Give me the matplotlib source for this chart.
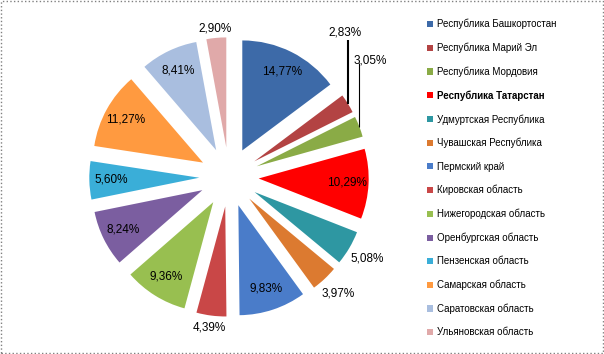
import numpy as np
import matplotlib
matplotlib.use('Agg')
import matplotlib.pyplot as plt
from matplotlib.patches import Rectangle

regions = ['Республика Башкортостан', 'Республика Марий Эл', 'Республика Мордовия',
           'Республика Татарстан', 'Удмуртская Республика', 'Чувашская Республика',
           'Пермский край', 'Кировская область', 'Нижегородская область',
           'Оренбургская область', 'Пензенская область', 'Самарская область',
           'Саратовская область', 'Ульяновская область']
shares = [14.77, 2.83, 3.05, 10.29, 5.08, 3.97, 9.83, 4.39, 9.36, 8.24, 5.60, 11.27, 8.41, 2.90]
colors = ['#3d6aa8', '#b34343', '#8aab46', '#ff0000', '#2e97a2', '#dc7a30', '#4a7cc9',
          '#c94747', '#98bf50', '#7b5ea0', '#3aaed8', '#ff9a40', '#a9bedf', '#e0a9a9']

# distance of each percentage label from its wedge's own centre (in radii)
label_dist = [0.8, None, None, 0.8, 1.19, 1.18, 0.8, 1.11, 0.8, 0.8, 0.8, 0.8, 0.8, 1.09]
# labels with a vertical leader line: index -> (height of line top, line width)
leaders = {1: (1.245, 1.5), 2: (1.04, 0.8)}

plt.rcParams['font.family'] = ['Liberation Sans', 'DejaVu Sans']

fig = plt.figure(figsize=(6.04, 3.54), dpi=100)
ax = fig.add_axes([64 / 604, 12 / 354, 330 / 604, 330 / 354])

expl = 0.27
wedges, texts, autotexts = ax.pie(shares, colors=colors, startangle=90, counterclock=False,
                                  explode=[expl] * len(shares), radius=1.0,
                                  autopct=lambda p: '', pctdistance=0.8,
                                  wedgeprops=dict(linewidth=0))

for i, (w, v) in enumerate(zip(wedges, shares)):
    ang = np.deg2rad((w.theta1 + w.theta2) / 2)
    lab = ('%.2f%%' % v).replace('.', ',')
    if i in leaders:
        top, lw = leaders[i]
        x0 = (1 + expl) * np.cos(ang)
        y0 = (1 + expl) * np.sin(ang)
        ax.plot([x0, x0], [y0, top], color='black', lw=lw, solid_capstyle='butt')
        if i == 1:
            ax.text(x0 - 0.03, top + 0.07, lab, ha='center', va='center', fontsize=8.5)
        else:
            ax.text(x0 - 0.05, top + 0.02, lab, ha='left', va='center', fontsize=8.5)
    else:
        d = expl + label_dist[i]
        ax.text(d * np.cos(ang), d * np.sin(ang), lab, ha='center', va='center', fontsize=8.5)

ax.set_xlim(-1.5, 1.5)
ax.set_ylim(-1.5, 1.5)
ax.set_aspect('equal')
ax.axis('off')

leg = fig.legend(wedges, regions, loc='upper left', bbox_to_anchor=(423 / 604, 1 - 15 / 354),
                 frameon=False, fontsize=7, handlelength=0.6, handleheight=0.6,
                 handletextpad=0.4, labelspacing=1.37, borderaxespad=0)
leg.get_texts()[3].set_fontweight('bold')

fig.patches.append(Rectangle((0.001, 0.002), 0.997, 0.995, transform=fig.transFigure,
                             fill=False, ec='#808080', lw=1, ls=':'))

fig.savefig('out.png', dpi=100)
